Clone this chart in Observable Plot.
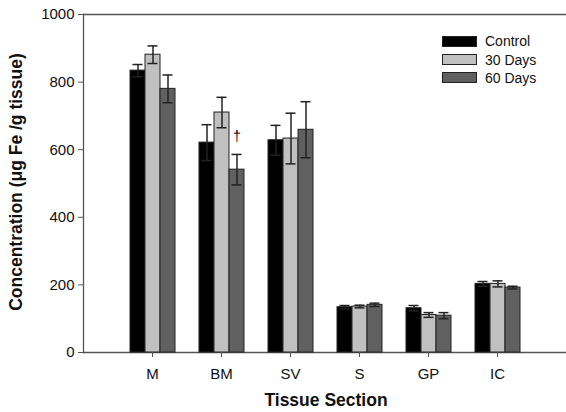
<!DOCTYPE html>
<html><head><meta charset="utf-8">
<script src="https://cdn.jsdelivr.net/npm/d3@7"></script>
<script src="https://cdn.jsdelivr.net/npm/@observablehq/plot@0.6"></script>
<style>
body{margin:0;background:#fff;font-family:"Liberation Sans",Arial,sans-serif;}
#wrap{position:relative;width:566px;height:412px;}
.ytitle{position:absolute;left:16px;top:182px;transform:translate(-50%,-50%) rotate(-90deg);font-weight:bold;font-size:17.5px;line-height:20px;white-space:nowrap;color:#111;}
.xtitle{position:absolute;left:326px;top:390px;transform:translateX(-50%);font-weight:bold;font-size:17.5px;line-height:20px;color:#111;white-space:nowrap;}
.legend{position:absolute;left:442px;top:32px;font-size:14px;color:#111;}
.legend div{display:flex;align-items:center;height:18.4px;}
.legend span.sw{display:inline-block;width:33px;height:9px;border:1px solid #222;margin-right:8px;}
</style></head>
<body><div id="wrap"></div>
<script>
const categories = ["M","BM","SV","S","GP","IC"];
const seriesNames = ["Control","30 Days","60 Days"];
const controlMean = [834,621,628,134,131,203];
const days30Mean = [881,710,633,136,111,203];
const days60Mean = [780,541,659,141,109,192];
const controlErr = [18,53,44,5,8,7];
const days30Err = [26,45,75,4,7,9];
const days60Err = [41,45,83,5,9,4];
const yTicks = [0,200,400,600,800,1000];
const colors = ["#000000","#c0c0c0","#606060"];
const annotations = [{cat:"BM", series:"60 Days", y:640, text:"†"}];

const means = [controlMean, days30Mean, days60Mean];
const errs = [controlErr, days30Err, days60Err];
const data = [];
categories.forEach((c,i)=>seriesNames.forEach((s,j)=>{
  data.push({cat:c, series:s, value:means[j][i], lo:means[j][i]-errs[j][i], hi:means[j][i]+errs[j][i]});
}));

const W = 566, H = 412, ML = 83, MR = 0;
const padInner = 1/3, padOuter = 2/3;
const step = (W - ML - MR) / (categories.length - padInner + 2 * padOuter);
const outerGap = step * padOuter; // space between frame edge and first/last group

const chart = Plot.plot({
  width:W, height:H,
  marginLeft:ML, marginRight:MR, marginTop:14, marginBottom:60,
  style:{fontFamily:"'Liberation Sans', Arial, sans-serif", fontSize:"15px", color:"#111"},
  fx:{domain:categories, paddingInner:padInner, paddingOuter:padOuter, label:null},
  x:{domain:seriesNames, padding:0, axis:null},
  y:{domain:[0,1000], label:null},
  color:{domain:seriesNames, range:colors},
  marks:[
    Plot.frame({facet:"super", anchor:"bottom", stroke:"#555", strokeWidth:1.3, insetLeft:-outerGap, insetRight:-outerGap}),
    Plot.frame({facet:"super", anchor:"top", stroke:"#555", strokeWidth:1.3, insetLeft:-outerGap, insetRight:-outerGap}),
    Plot.frame({facet:"super", anchor:"left", stroke:"#555", strokeWidth:1.3, insetLeft:-outerGap}),
    Plot.barY(data,{fx:"cat", x:"series", y:"value", fill:"series", stroke:"#222", strokeWidth:1}),
    Plot.ruleX(data,{fx:"cat", x:"series", y1:"lo", y2:"hi", stroke:"#222", strokeWidth:1.5}),
    Plot.tickY(data,{fx:"cat", x:"series", y:"hi", stroke:"#222", strokeWidth:1.5, insetLeft:2.5, insetRight:2.5}),
    Plot.tickY(data,{fx:"cat", x:"series", y:"lo", stroke:"#222", strokeWidth:1.5, insetLeft:2.5, insetRight:2.5}),
    Plot.text(annotations,{fx:"cat", x:"series", y:"y", text:"text", fontSize:14, fill:"black", fontFamily:"'Liberation Sans', Arial, sans-serif"}),
    Plot.axisY({ticks:yTicks, tickFormat:"d", tickSize:5, tickPadding:4, label:null, dx:-outerGap, stroke:"#555"}),
    Plot.axisFx({tickSize:5, tickPadding:11, label:null, anchor:"bottom", stroke:"#555"})
  ]
});
const wrap = document.getElementById("wrap");
wrap.appendChild(chart);
const yt = document.createElement("div"); yt.className="ytitle"; yt.textContent="Concentration (μg Fe /g tissue)"; wrap.appendChild(yt);
const xt = document.createElement("div"); xt.className="xtitle"; xt.textContent="Tissue Section"; wrap.appendChild(xt);
const lg = document.createElement("div"); lg.className="legend";
seriesNames.forEach((s,j)=>{
  const row=document.createElement("div");
  const sw=document.createElement("span"); sw.className="sw"; sw.style.background=colors[j];
  row.appendChild(sw); row.appendChild(document.createTextNode(s)); lg.appendChild(row);
});
wrap.appendChild(lg);
</script></body></html>
